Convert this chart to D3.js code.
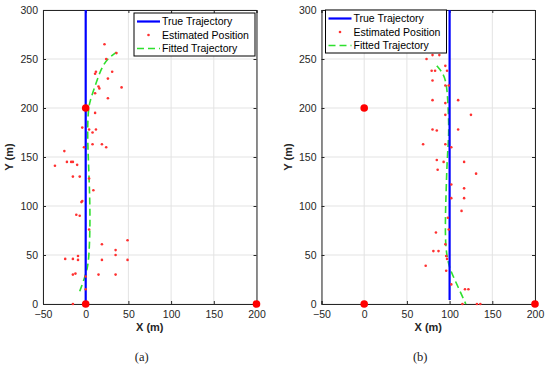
<!DOCTYPE html>
<html>
<head>
<meta charset="utf-8">
<script src="https://cdn.jsdelivr.net/npm/d3@7"></script>
<style>
  body { margin: 0; background: #fff; }
  svg text { font-family: "Liberation Sans", Arial, sans-serif; }
</style>
</head>
<body>
<svg id="chart" width="550" height="372"></svg>
<script>
const xTicks = [-50, 0, 50, 100, 150, 200]
const yTicks = [0, 50, 100, 150, 200, 250, 300]
const legendLabels = ['True Trajectory', 'Estimated Position', 'Fitted Trajectory']

// anchor / base station positions (big red dots)
const anchors = [[0, 0], [0, 200], [200, 0]]

// panel (a)
const trueA = [[0, 0], [0, 300]]
const estA = [
  [22, 265], [36, 256], [24, 250], [11, 235], [12, 237], [31, 237], [26, 230],
  [16, 220], [15, 222], [42, 221], [11, 215], [26, 210], [11, 195], [-4, 180],
  [4, 178], [12, 178], [8, 175], [8, 163], [19, 163], [24, 160], [-2, 160],
  [-25, 156], [-36, 141], [-22, 145], [-17, 145], [-15, 145], [-10, 142],
  [-15, 130], [-7, 130], [4, 128], [9, 116], [-5, 104], [-4, 105], [-11, 91],
  [-7, 90], [4, 76], [19, 61], [49, 65], [35, 55], [35, 50], [-24, 46], [-15, 46],
  [-9, 49], [-9, 45], [19, 45], [49, 45], [-15, 30], [-12, 31], [15, 30], [35, 30],
  [0, 28], [0, 15], [-15, 0]
]
const fitA = [
  [-7, 13], [-4, 20], [2, 35], [4, 50], [5, 76], [5, 100], [4, 128], [3, 150],
  [2, 175], [3, 200], [6, 210], [12, 225], [18, 240], [25, 250], [36, 257]
]

// panel (b)
const trueB = [[100, 4], [100, 300]]
const estB = [
  [73, 250], [80, 254], [88, 254], [79, 238], [83, 238], [95, 243], [97, 238],
  [80, 228], [95, 223], [99, 223], [80, 208], [95, 205], [110, 208], [95, 193],
  [125, 193], [80, 178], [85, 177], [110, 178], [69, 163], [95, 163], [102, 160],
  [85, 147], [93, 145], [117, 145], [86, 137], [131, 133], [102, 122], [117, 118],
  [117, 108], [102, 108], [114, 95], [98, 88], [99, 76], [84, 73], [95, 61],
  [81, 54], [87, 54], [96, 49], [97, 46], [72, 39], [96, 34], [102, 20],
  [118, 15], [122, 15], [115, 0], [132, 0], [136, 0]
]
const fitB = [
  [85, 243], [91, 237], [96, 228], [98, 208], [99, 185], [99, 170], [97, 146],
  [96, 116], [95, 89], [95, 58], [99, 38], [107, 23], [119, 0]
]

const svg = d3.select('#chart')
const axisColor = '#262626'

function drawPanel(opts) {
  const x = d3.scaleLinear().domain([-50, 200]).range([opts.left, opts.left + 213.5])
  const y = d3.scaleLinear().domain([0, 300]).range([304, 10])
  const g = svg.append('g')

  // grid
  g.selectAll('.gx').data(xTicks).enter().append('line')
    .attr('x1', d => x(d)).attr('x2', d => x(d))
    .attr('y1', y(0)).attr('y2', y(300))
    .style('stroke', '#e3e3e3').style('stroke-width', 1)
  g.selectAll('.gy').data(yTicks).enter().append('line')
    .attr('y1', d => y(d)).attr('y2', d => y(d))
    .attr('x1', x(-50)).attr('x2', x(200))
    .style('stroke', '#e3e3e3').style('stroke-width', 1)

  // axes
  const xAxis = g.append('g').attr('transform', 'translate(0,' + y(0) + ')')
    .call(d3.axisBottom(x).tickValues(xTicks).tickSize(-3).tickPadding(6).tickFormat(d => d === -50 ? '\u221250' : d))
  const xTop = g.append('g').attr('transform', 'translate(0,' + y(300) + ')')
    .call(d3.axisTop(x).tickValues(xTicks).tickSize(-3).tickFormat(''))
  const yAxis = g.append('g').attr('transform', 'translate(' + x(-50) + ',0)')
    .call(d3.axisLeft(y).tickValues(yTicks).tickSize(-3).tickPadding(5))
  const yRight = g.append('g').attr('transform', 'translate(' + x(200) + ',0)')
    .call(d3.axisRight(y).tickValues(yTicks).tickSize(-3).tickFormat(''))
  ;[xAxis, xTop, yAxis, yRight].forEach(a => {
    a.selectAll('path, line').style('stroke', axisColor).style('stroke-width', 1)
    a.selectAll('text').style('font-size', '10.5px').style('fill', axisColor)
  })
  xAxis.selectAll('text').attr('dy', '0.8em')

  // fitted trajectory
  g.append('path')
    .datum(opts.fit)
    .attr('d', d3.line().x(d => x(d[0])).y(d => y(d[1])).curve(d3.curveBasis))
    .style('fill', 'none').style('stroke', '#2ee02e').style('stroke-width', 1.6)
    .style('stroke-dasharray', '7,4')

  // true trajectory
  g.append('path')
    .datum(opts.truth)
    .attr('d', d3.line().x(d => x(d[0])).y(d => y(d[1])))
    .style('fill', 'none').style('stroke', '#0000ff').style('stroke-width', 2.2)

  // estimated positions
  g.selectAll('.est').data(opts.est).enter().append('circle')
    .attr('cx', d => x(d[0])).attr('cy', d => y(d[1])).attr('r', 1.3)
    .style('fill', '#ff3030')

  // anchors
  g.selectAll('.anc').data(anchors).enter().append('circle')
    .attr('cx', d => x(d[0])).attr('cy', d => y(d[1])).attr('r', 3.8)
    .style('fill', '#ff0000')

  // labels
  g.append('text').attr('x', x(75)).attr('y', 331).attr('text-anchor', 'middle')
    .style('font-size', '11px').style('font-weight', 'bold').style('fill', axisColor).text('X (m)')
  g.append('text').attr('transform', 'translate(' + (opts.left - 30) + ',' + y(150) + ') rotate(-90)')
    .attr('text-anchor', 'middle')
    .style('font-size', '11px').style('font-weight', 'bold').style('fill', axisColor).text('Y (m)')
  g.append('text').attr('x', x(75) - 8).attr('y', 361).attr('text-anchor', 'middle')
    .style('font-family', '"Liberation Serif", "Times New Roman", serif')
    .style('font-size', '12.5px').style('fill', '#222').text(opts.caption)

  // legend
  const lg = g.append('g').attr('transform', 'translate(' + opts.legX + ',' + opts.legY + ')')
  lg.append('rect').attr('width', 121).attr('height', 43)
    .style('fill', '#fff').style('stroke', '#000').style('stroke-width', 1)
  legendLabels.forEach((lab, i) => {
    const cy = 8.5 + i * 13.5
    if (i === 0) {
      lg.append('line').attr('x1', 3).attr('x2', 26).attr('y1', cy).attr('y2', cy)
        .style('stroke', '#0000ff').style('stroke-width', 2.2)
    } else if (i === 1) {
      lg.append('circle').attr('cx', 14.5).attr('cy', cy).attr('r', 1.3).style('fill', '#ff3030')
    } else {
      lg.append('line').attr('x1', 3).attr('x2', 26).attr('y1', cy).attr('y2', cy)
        .style('stroke', '#2ee02e').style('stroke-width', 1.6).style('stroke-dasharray', '7,4')
    }
    lg.append('text').attr('x', 28).attr('y', cy).attr('dy', '0.35em')
      .style('font-size', '10.5px').style('fill', '#000').text(lab)
  })
}

drawPanel({ left: 43, truth: trueA, est: estA, fit: fitA, caption: '(a)', legX: 134, legY: 13 })
drawPanel({ left: 321.5, truth: trueB, est: estB, fit: fitB, caption: '(b)', legX: 325.5, legY: 10 })
</script>
</body>
</html>
